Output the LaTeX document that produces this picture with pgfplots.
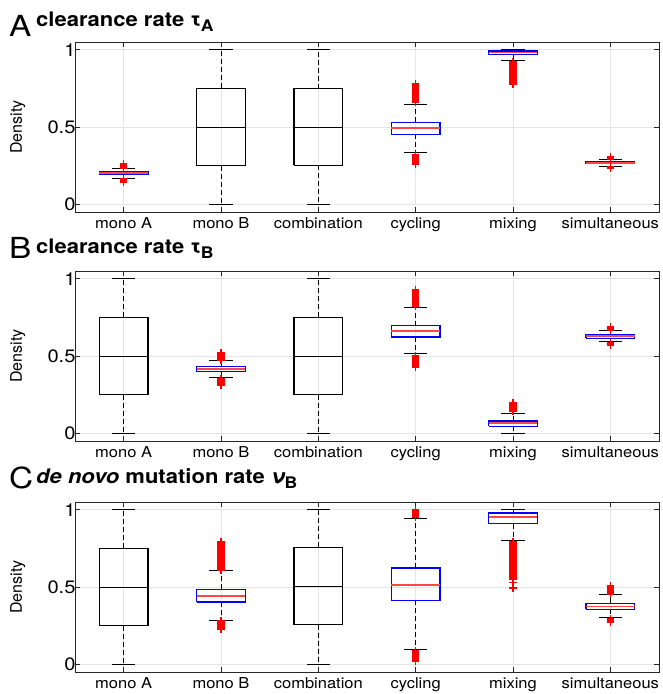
\documentclass[border=0pt]{standalone}
\usepackage{fontspec}
\setmainfont{TeX Gyre Heros}
\usepackage{pgfplots}
\pgfplotsset{compat=1.18}

\definecolor{axgray}{RGB}{38,38,38}
\definecolor{medred}{RGB}{255,70,70}
\definecolor{boxblue}{RGB}{0,0,255}

\pgfplotsset{
  panel/.style={
    scale only axis, width=584pt, height=170pt,
    xmin=0.5, xmax=6.5, ymin=-0.05, ymax=1.05,
    xtick={1,...,6},
    xticklabels={mono A, mono B, combination, cycling, mixing, simultaneous},
    ytick={0,0.5,1}, yticklabels={0,0.5,1},
    tick align=inside, tick pos=both, major tick length=5pt,
    grid=major, grid style={gray!20, line width=0.8pt},
    axis line style={axgray, line width=0.9pt},
    tick style={axgray, line width=0.9pt},
    xticklabel style={font=\fontsize{15}{15}\selectfont, xscale=1.1, yshift=-2pt},
    yticklabel style={font=\fontsize{18}{18}\selectfont, xscale=1.12, xshift=4pt},
    ylabel={\fontsize{16}{16}\selectfont Density},
    ylabel style={at={(axis description cs:-0.098,0.5)}, anchor=center},
    /pgf/number format/assume math mode=true,
  },
  outl/.style={only marks, mark=+, red, mark size=3.8pt, line width=1.6pt, forget plot},
}

% one box: position, lower whisker, lower quartile, median, upper quartile, upper whisker, box colour, median colour, median width
\newcommand{\bx}[9]{%
  \pgfmathsetmacro\xl{#1-0.25}\pgfmathsetmacro\xr{#1+0.25}%
  \pgfmathsetmacro\capl{#1-0.12}\pgfmathsetmacro\capr{#1+0.12}%
  \addplot[draw=black, line width=1pt, dash pattern=on 5pt off 3pt, forget plot] coordinates {(#1,#5) (#1,#6)};
  \addplot[draw=black, line width=1pt, dash pattern=on 5pt off 3pt, forget plot] coordinates {(#1,#3) (#1,#2)};
  \addplot[draw=black, line width=1pt, forget plot] coordinates {(\capl,#6) (\capr,#6)};
  \addplot[draw=black, line width=1pt, forget plot] coordinates {(\capl,#2) (\capr,#2)};
  \addplot[draw=#7, line width=1.4pt, forget plot] coordinates {(\xl,#3) (\xr,#3) (\xr,#5) (\xl,#5) (\xl,#3)};
  \addplot[draw=#8, line width=#9, forget plot] coordinates {(\xl,#4) (\xr,#4)};
}

\newcommand{\ttl}[1]{{\fontsize{20}{20}\selectfont\bfseries #1}}
\newcommand{\sub}[1]{\raisebox{-5pt}{\fontsize{16}{16}\selectfont\bfseries #1}}

\begin{document}
\begin{tikzpicture}
\useasboundingbox (0,0) rectangle (663pt,-694pt);

% ---------------- panel A
\node[anchor=base west, inner sep=0, xscale=1.15, font=\fontsize{29}{29}\selectfont] at (9pt,-36pt) {A};
\node[anchor=base west, inner sep=0, xscale=1.1] at (36pt,-26pt) {\ttl{clearance rate τ}\sub{A}};
\begin{axis}[panel, at={(75pt,-42pt)}, anchor=north west]
\bx{1}{0.168}{0.192}{0.200}{0.208}{0.230}{boxblue}{medred}{1.8pt}
\addplot[outl] coordinates {(1,0.235) (1,0.240) (1,0.245) (1,0.250) (1,0.255) (1,0.260)
  (1,0.145) (1,0.150) (1,0.155) (1,0.160) (1,0.165)};
\bx{2}{0}{0.25}{0.5}{0.75}{1}{black}{black}{1pt}
\bx{3}{0}{0.252}{0.497}{0.748}{1}{black}{black}{1pt}
\bx{4}{0.335}{0.452}{0.495}{0.531}{0.647}{boxblue}{medred}{1.8pt}
\addplot[outl] coordinates {(4,0.66) (4,0.67) (4,0.68) (4,0.69) (4,0.70) (4,0.71) (4,0.72)
  (4,0.73) (4,0.74) (4,0.75) (4,0.76) (4,0.77) (4,0.78)
  (4,0.26) (4,0.27) (4,0.28) (4,0.29) (4,0.30) (4,0.31) (4,0.32)};
\bx{5}{0.930}{0.968}{0.982}{0.992}{1}{boxblue}{medred}{1.8pt}
\addplot[outl] coordinates {(5,0.78) (5,0.79) (5,0.80) (5,0.81) (5,0.82) (5,0.83) (5,0.84)
  (5,0.85) (5,0.86) (5,0.87) (5,0.88) (5,0.89) (5,0.90) (5,0.91) (5,0.92)};
\bx{6}{0.245}{0.262}{0.268}{0.274}{0.288}{boxblue}{medred}{1.8pt}
\addplot[outl] coordinates {(6,0.292) (6,0.297) (6,0.302) (6,0.306)
  (6,0.232) (6,0.237) (6,0.242)};
\end{axis}

% ---------------- panel B
\node[anchor=base west, inner sep=0, xscale=1.15, font=\fontsize{29}{29}\selectfont] at (9pt,-258pt) {B};
\node[anchor=base west, inner sep=0, xscale=1.1] at (36pt,-253pt) {\ttl{clearance rate τ}\sub{B}};
\begin{axis}[panel, at={(75pt,-271pt)}, anchor=north west]
\bx{1}{0}{0.25}{0.5}{0.75}{1}{black}{black}{1pt}
\bx{2}{0.358}{0.399}{0.414}{0.431}{0.468}{boxblue}{medred}{1.8pt}
\addplot[outl] coordinates {(2,0.475) (2,0.48) (2,0.49) (2,0.50) (2,0.51) (2,0.52)
  (2,0.31) (2,0.32) (2,0.33) (2,0.34) (2,0.35)};
\bx{3}{0}{0.25}{0.5}{0.75}{1}{black}{black}{1pt}
\bx{4}{0.515}{0.622}{0.663}{0.697}{0.811}{boxblue}{medred}{1.8pt}
\addplot[outl] coordinates {(4,0.82) (4,0.83) (4,0.84) (4,0.85) (4,0.86) (4,0.87) (4,0.88)
  (4,0.89) (4,0.90) (4,0.91) (4,0.92) (4,0.93)
  (4,0.43) (4,0.44) (4,0.45) (4,0.46) (4,0.47) (4,0.48) (4,0.49) (4,0.50)};
\bx{5}{0}{0.045}{0.064}{0.079}{0.131}{boxblue}{medred}{1.8pt}
\addplot[outl] coordinates {(5,0.14) (5,0.15) (5,0.16) (5,0.17) (5,0.18) (5,0.19) (5,0.20)};
\bx{6}{0.592}{0.614}{0.627}{0.640}{0.663}{boxblue}{medred}{1.8pt}
\addplot[outl] coordinates {(6,0.668) (6,0.675) (6,0.682) (6,0.690)
  (6,0.570) (6,0.577) (6,0.584)};
\end{axis}

% ---------------- panel C
\node[anchor=base west, inner sep=0, xscale=1.15, font=\fontsize{29}{29}\selectfont] at (9pt,-488pt) {C};
\node[anchor=base west, inner sep=0, xscale=1.1] at (36pt,-483pt)
  {\ttl{\itshape de novo}\ttl{ mutation rate }\ttl{\itshape ν}\sub{B}};
\begin{axis}[panel, at={(75pt,-502pt)}, anchor=north west]
\bx{1}{0}{0.25}{0.5}{0.75}{1}{black}{black}{1pt}
\bx{2}{0.286}{0.404}{0.443}{0.484}{0.604}{boxblue}{medred}{1.8pt}
\addplot[outl] coordinates {(2,0.61) (2,0.62) (2,0.63) (2,0.64) (2,0.65) (2,0.66) (2,0.67)
  (2,0.68) (2,0.69) (2,0.70) (2,0.71) (2,0.72) (2,0.73) (2,0.74) (2,0.75) (2,0.76)
  (2,0.77) (2,0.78) (2,0.79)
  (2,0.23) (2,0.24) (2,0.25) (2,0.26) (2,0.27) (2,0.28)};
\bx{3}{0}{0.256}{0.505}{0.757}{1}{black}{black}{1pt}
\bx{4}{0.095}{0.413}{0.512}{0.624}{0.942}{boxblue}{medred}{1.8pt}
\addplot[outl] coordinates {(4,0.95) (4,0.96) (4,0.97) (4,0.98) (4,0.99) (4,1.00)
  (4,0.02) (4,0.03) (4,0.04) (4,0.05) (4,0.06) (4,0.07) (4,0.08) (4,0.09)};
\bx{5}{0.802}{0.910}{0.953}{0.978}{1}{boxblue}{medred}{1.8pt}
\addplot[outl] coordinates {(5,0.55) (5,0.56) (5,0.57) (5,0.58) (5,0.59) (5,0.60) (5,0.61)
  (5,0.62) (5,0.63) (5,0.64) (5,0.65) (5,0.66) (5,0.67) (5,0.68) (5,0.69) (5,0.70)
  (5,0.71) (5,0.72) (5,0.73) (5,0.74) (5,0.75) (5,0.76) (5,0.77) (5,0.78)
  (5,0.79) (5,0.53) (5,0.495)};
\bx{6}{0.301}{0.355}{0.374}{0.394}{0.449}{boxblue}{medred}{1.8pt}
\addplot[outl] coordinates {(6,0.455) (6,0.46) (6,0.47) (6,0.48) (6,0.49) (6,0.50) (6,0.51)
  (6,0.27) (6,0.28) (6,0.29) (6,0.295)};
\end{axis}
\end{tikzpicture}
\end{document}
